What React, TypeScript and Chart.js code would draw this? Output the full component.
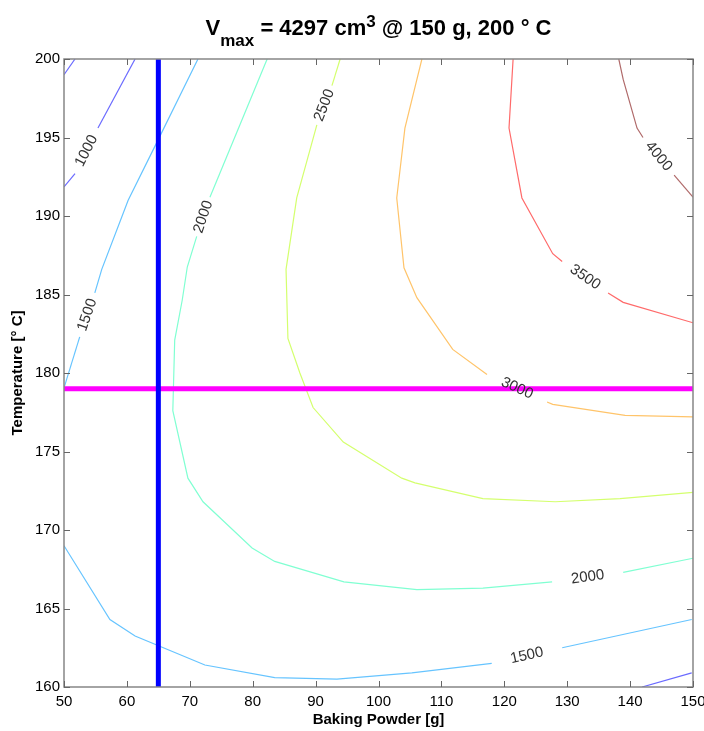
import React, { useEffect, useRef } from "react";
import { Chart, registerables } from "chart.js";

Chart.register(...registerables);

type Pt = [number, number] | null;

const FONT = "'Liberation Sans', Arial, Helvetica, sans-serif";

// Axis ticks
const xTickValues = [50, 60, 70, 80, 90, 100, 110, 120, 130, 140, 150];
const yTickValues = [160, 165, 170, 175, 180, 185, 190, 195, 200];

// Texts
const titleParts: { text: string; kind: "main" | "sub" | "sup" }[] = [
  { text: "V", kind: "main" },
  { text: "max", kind: "sub" },
  { text: " = 4297 cm", kind: "main" },
  { text: "3", kind: "sup" },
  { text: " @ 150 g, 200 \u00b0 C", kind: "main" },
];
const xAxisTitle = "Baking Powder [g]";
const yAxisTitle = "Temperature [\u00b0 C]";

// Reference lines
const refBakingPowder = 65;
const refTemperature = 179;

// Contour levels and colors
const levels = [1000, 1500, 2000, 2500, 3000, 3500, 4000];
const levelColors = ["#6a6aff", "#66c4ff", "#80ffd2", "#d4ff6e", "#ffc46a", "#ff6a6a", "#b06a6a"];

// Contour lines: each level has pieces; null marks a gap where the level label sits
const c1000: Pt[][] = [
  [[50, 199.0], [51.75, 200]],
  [[50, 191.85], [51.75, 192.7], null, [55.4, 195.6], [61.3, 200]],
  [[141.9, 160], [149.8, 160.9]],
];
const c1500: Pt[][] = [
  [[50, 179.05], [52.5, 182.3], null, [54.9, 185.1], [56.0, 186.6], [60.2, 191.0], [64.9, 194.8], [71.3, 200]],
  [[50, 169.0], [57.3, 164.3], [61.3, 163.25], [72.4, 161.4], [83.5, 160.6], [93.4, 160.5], [105.3, 160.9], [118.0, 161.5], null, [129.2, 162.5], [149.8, 164.3]],
];
const c2000: Pt[][] = [
  [[82.3, 200], [73.2, 191.2], null, [71.1, 188.7], [69.6, 186.75], [68.8, 184.65], [67.6, 182.1], [67.3, 177.6], [69.7, 173.3], [72.1, 171.8], [79.9, 168.85], [83.5, 168.0], [94.5, 166.7], [106.1, 166.2], [116.6, 166.3], [127.6, 166.7], null, [138.9, 167.3], [150, 168.2]],
];
const c2500: Pt[][] = [
  [[93.9, 200], [92.6, 198.3], null, [90.2, 195.8], [87.0, 191.15], [85.3, 186.6], [85.6, 182.2], [87.5, 180.0], [89.6, 177.8], [94.4, 175.6], [103.7, 173.3], [105.8, 173.0], [116.6, 172.0], [128.1, 171.8], [138.4, 172.0], [150, 172.4]],
];
const c3000: Pt[][] = [
  [[106.9, 200], [104.2, 195.6], [102.9, 191.15], [104.05, 186.7], [106.1, 184.8], [111.8, 181.5], [117.25, 179.9], null, [126.8, 178.15], [127.7, 178.0], [139.2, 177.3], [150, 177.2]],
];
const c3500: Pt[][] = [
  [[121.4, 200], [120.75, 195.6], [122.8, 191.15], [127.7, 187.6], [129.2, 187.1], null, [136.5, 185.1], [138.9, 184.5], [150, 183.2]],
];
const c4000: Pt[][] = [
  [[138.2, 200], [138.9, 198.7], [141.1, 195.6], [142.05, 195.0], null, [147.0, 192.6], [150, 191.2]],
];
const contourPieces = [c1000, c1500, c2000, c2500, c3000, c3500, c4000];

function splitPiece(piece: Pt[]): [number, number][][] {
  const out: [number, number][][] = [];
  let cur: [number, number][] = [];
  piece.forEach((p) => {
    if (p === null) {
      if (cur.length) out.push(cur);
      cur = [];
    } else cur.push(p);
  });
  if (cur.length) out.push(cur);
  return out;
}

const contourLabelPlugin = {
  id: "contourLabels",
  afterDatasetsDraw(chart: any) {
    const { ctx } = chart;
    const xs = chart.scales.x;
    const ys = chart.scales.y;
    ctx.save();
    ctx.font = `15px ${FONT}`;
    ctx.fillStyle = "#333333";
    ctx.textAlign = "center";
    ctx.textBaseline = "middle";
    contourPieces.forEach((pieces, li) => {
      pieces.forEach((piece) => {
        piece.forEach((p, i) => {
          if (p !== null) return;
          const a = piece[i - 1] as [number, number];
          const b = piece[i + 1] as [number, number];
          const ax = xs.getPixelForValue(a[0]);
          const ay = ys.getPixelForValue(a[1]);
          const bx = xs.getPixelForValue(b[0]);
          const by = ys.getPixelForValue(b[1]);
          let ang = Math.atan2(by - ay, bx - ax);
          if (ang > Math.PI / 2) ang -= Math.PI;
          if (ang < -Math.PI / 2) ang += Math.PI;
          ctx.save();
          ctx.translate((ax + bx) / 2, (ay + by) / 2);
          ctx.rotate(ang);
          ctx.fillText(String(levels[li]), 0, 0);
          ctx.restore();
        });
      });
    });
    ctx.restore();
  },
};

const framePlugin = {
  id: "frame",
  afterDraw(chart: any) {
    const { ctx, chartArea } = chart;
    const xs = chart.scales.x;
    const ys = chart.scales.y;
    const { left, right, top, bottom } = chartArea;
    ctx.save();
    // box
    ctx.strokeStyle = "#868686";
    ctx.lineWidth = 1.5;
    ctx.strokeRect(left, top, right - left, bottom - top);
    // inward ticks
    ctx.lineWidth = 1;
    ctx.strokeStyle = "#666666";
    const tl = 6;
    ctx.beginPath();
    xTickValues.forEach((v) => {
      const px = Math.round(xs.getPixelForValue(v)) + 0.5;
      ctx.moveTo(px, bottom);
      ctx.lineTo(px, bottom - tl);
      ctx.moveTo(px, top);
      ctx.lineTo(px, top + tl);
    });
    yTickValues.forEach((v) => {
      const py = Math.round(ys.getPixelForValue(v)) + 0.5;
      ctx.moveTo(left, py);
      ctx.lineTo(left + tl, py);
      ctx.moveTo(right, py);
      ctx.lineTo(right - tl, py);
    });
    ctx.stroke();

    // title
    const mainFont = `bold 22px ${FONT}`;
    const smallFont = `bold 17px ${FONT}`;
    let total = 0;
    const widths = titleParts.map((p) => {
      ctx.font = p.kind === "main" ? mainFont : smallFont;
      const w = ctx.measureText(p.text).width;
      total += w;
      return w;
    });
    let cx = (left + right) / 2 - total / 2;
    ctx.fillStyle = "#000000";
    ctx.textAlign = "left";
    ctx.textBaseline = "alphabetic";
    titleParts.forEach((p, i) => {
      ctx.font = p.kind === "main" ? mainFont : smallFont;
      const by = p.kind === "main" ? 35 : p.kind === "sub" ? 46 : 27;
      ctx.fillText(p.text, cx, by);
      cx += widths[i];
    });

    // axis titles
    ctx.font = `bold 15px ${FONT}`;
    ctx.textAlign = "center";
    ctx.textBaseline = "middle";
    ctx.fillText(xAxisTitle, (left + right) / 2, 720);
    ctx.save();
    ctx.translate(18, (top + bottom) / 2);
    ctx.rotate(-Math.PI / 2);
    ctx.fillText(yAxisTitle, 0, 0);
    ctx.restore();
    ctx.restore();
  },
};

export default function App() {
  const canvasRef = useRef<HTMLCanvasElement | null>(null);

  useEffect(() => {
    const canvas = canvasRef.current;
    if (!canvas) return;

    const datasets: any[] = [];
    datasets.push({
      label: "ref-x",
      data: [
        { x: refBakingPowder, y: 160 },
        { x: refBakingPowder, y: 200 },
      ],
      borderColor: "#0000ff",
      borderWidth: 5,
      showLine: true,
      pointRadius: 0,
      order: 0,
    });
    datasets.push({
      label: "ref-y",
      data: [
        { x: 50, y: refTemperature },
        { x: 150, y: refTemperature },
      ],
      borderColor: "#ff00ff",
      borderWidth: 5,
      showLine: true,
      pointRadius: 0,
      order: 1,
    });
    contourPieces.forEach((pieces, li) => {
      pieces.forEach((piece) => {
        splitPiece(piece).forEach((seg) => {
          datasets.push({
            label: String(levels[li]),
            data: seg.map(([x, y]) => ({ x, y })),
            borderColor: levelColors[li],
            borderWidth: 1.2,
            showLine: true,
            pointRadius: 0,
            tension: 0,
            order: 2,
          });
        });
      });
    });

    const chart = new Chart(canvas, {
      type: "scatter",
      data: { datasets },
      options: {
        animation: false,
        responsive: false,
        maintainAspectRatio: false,
        devicePixelRatio: 1,
        layout: { padding: { top: 59, right: 11, left: 0, bottom: 0 } },
        plugins: { legend: { display: false }, tooltip: { enabled: false }, title: { display: false } },
        scales: {
          x: {
            type: "linear",
            min: 50,
            max: 150,
            afterBuildTicks: (s: any) => {
              s.ticks = xTickValues.map((v) => ({ value: v }));
            },
            afterFit: (s: any) => {
              s.height = 44;
              s.paddingLeft = 0;
              s.paddingRight = 0;
            },
            grid: { display: false, drawTicks: false },
            border: { display: false },
            ticks: {
              padding: 6,
              color: "#000000",
              font: { family: FONT, size: 15 },
              maxRotation: 0,
              autoSkip: false,
            },
          },
          y: {
            type: "linear",
            min: 160,
            max: 200,
            afterBuildTicks: (s: any) => {
              s.ticks = yTickValues.map((v) => ({ value: v }));
            },
            afterFit: (s: any) => {
              s.width = 64;
              s.paddingTop = 0;
              s.paddingBottom = 0;
            },
            grid: { display: false, drawTicks: false },
            border: { display: false },
            ticks: {
              padding: 4,
              color: "#000000",
              font: { family: FONT, size: 15 },
              autoSkip: false,
            },
          },
        },
      },
      plugins: [contourLabelPlugin, framePlugin],
    } as any);

    return () => chart.destroy();
  }, []);

  return (
    <div style={{ position: "absolute", left: 0, top: 0, width: 704, height: 731, background: "#ffffff" }}>
      <canvas ref={canvasRef} width={704} height={731} style={{ width: 704, height: 731, display: "block" }} />
    </div>
  );
}
